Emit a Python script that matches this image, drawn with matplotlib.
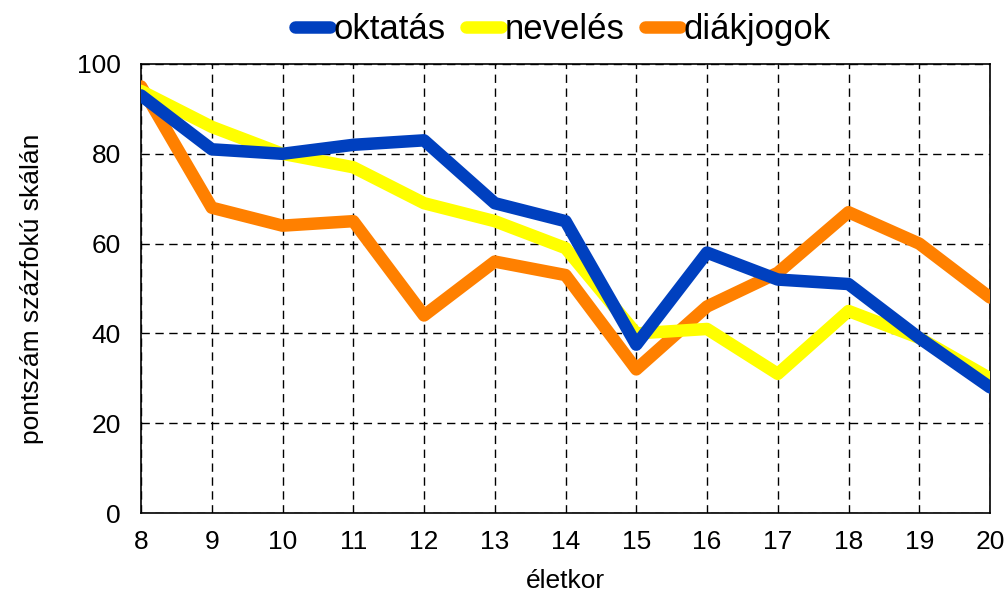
import matplotlib
matplotlib.use("Agg")
import matplotlib.pyplot as plt

plt.rcParams['font.family'] = ['Liberation Sans', 'DejaVu Sans']

ages = [8, 9, 10, 11, 12, 13, 14, 15, 16, 17, 18, 19, 20]
oktatas = [93, 81, 80, 82, 83, 69, 65, 37.5, 58, 52, 51, 39, 28]
neveles = [94, 86, 80, 77, 69, 65, 59, 40, 41, 31, 45, 39, 30]
diakjogok = [95, 68, 64, 65, 44, 56, 53, 32, 46, 53.5, 67, 60, 48]
yticks = [0, 20, 40, 60, 80, 100]

fig = plt.figure(figsize=(10.05, 5.98), dpi=100)
ax = fig.add_axes([0.1403, 0.142, 0.8448, 0.751])

lw = 9
ax.plot(ages, diakjogok, color='#FF8000', lw=lw, solid_capstyle='round',
        solid_joinstyle='round', label='diákjogok', zorder=3)
ax.plot(ages, neveles, color='#FFFF00', lw=lw, solid_capstyle='round',
        solid_joinstyle='round', label='nevelés', zorder=4)
ax.plot(ages, oktatas, color='#0040BF', lw=lw, solid_capstyle='round',
        solid_joinstyle='round', label='oktatás', zorder=5)

ax.set_xlim(8, 20)
ax.set_ylim(0, 100)
ax.set_xticks(ages)
ax.set_yticks(yticks)
ax.grid(True, color='black', linestyle=(0, (6, 4)), linewidth=1)
ax.tick_params(axis='x', length=0, labelsize=19, pad=12)
ax.tick_params(axis='y', length=0, labelsize=19, pad=14.5)
for s in ax.spines.values():
    s.set_color('black')
    s.set_linewidth(1.2)

ax.set_xlabel('életkor', fontsize=19, labelpad=11)
ax.set_ylabel('pontszám százfokú skálán', fontsize=19, labelpad=24)

handles, labels = ax.get_legend_handles_labels()
order = [2, 1, 0]
fig.legend([handles[i] for i in order], [labels[i] for i in order],
           loc='center', bbox_to_anchor=(0.56, 0.95), ncol=3, frameon=False,
           fontsize=25, handlelength=1.0, handletextpad=0.1, columnspacing=0.6)

fig.savefig('out.png', dpi=100)
